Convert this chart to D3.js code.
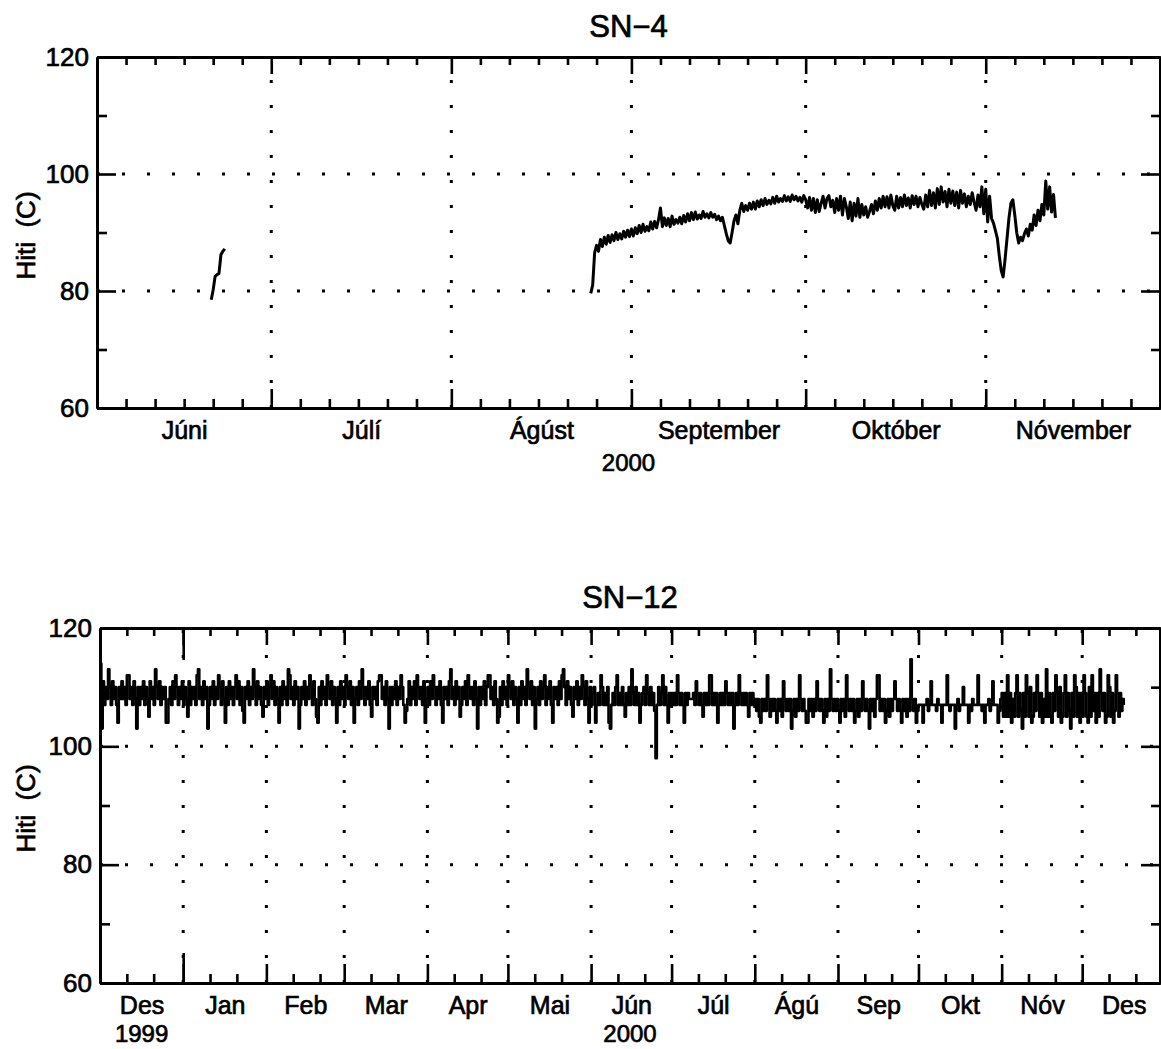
<!DOCTYPE html>
<html>
<head>
<meta charset="utf-8">
<script src="https://cdnjs.cloudflare.com/ajax/libs/d3/7.8.5/d3.min.js"></script>
<style>
body { margin: 0; background: #fff; }
svg text { font-family: "Liberation Sans", Arial, sans-serif; fill: #000; stroke: #000; stroke-width: 0.7px; white-space: pre; }
</style>
</head>
<body>
<svg id="chart" width="1161" height="1049"></svg>
<script>
// SN-4 (Jun - Nov 2000), readings every 8 hours
const sn4JuniStart = "2000-06-20T16:00Z";
const sn4JuniValues = [78.5, 80.2, 82.5, 82.8, 83.0, 86.2, 86.8, 87.2];

const sn4Start = "2000-08-25T00:00Z";
const sn4Values = [
  79.6, 81.0, 86.5,  87.8, 86.8, 88.8,  87.6, 89.2, 88.0,  89.5, 88.3, 89.6,  88.6, 90.0, 88.8,
  89.8, 88.9, 90.2,  89.2, 90.4, 89.3,
  // sep
  90.6, 89.4, 90.8,  89.8, 91.2, 90.0,  91.4, 90.2, 91.0,  90.3, 91.8, 90.6,  91.9, 90.8, 92.2,
  94.2, 91.0, 92.5,  91.2, 92.4, 91.0,  92.8, 91.4, 92.2,  91.6, 92.6, 91.5,  92.9, 91.8, 93.2,
  92.0, 93.4, 92.2,  93.5, 92.3, 93.0,  92.4, 93.6, 92.6,  93.2, 92.5, 93.4,  92.6, 93.1, 92.2,
  92.8, 92.0, 92.6,  91.2, 89.8, 88.6,  88.2, 90.0, 92.0,  93.0, 91.5, 93.8,  95.0, 93.6, 94.6,
  93.8, 95.0, 94.0,  95.2, 94.0, 95.4,  94.4, 95.6, 94.6,  95.8, 94.8, 95.5,  94.9, 96.0, 95.0,
  96.2, 95.2, 95.8,  95.3, 96.3, 95.4,  96.1, 95.3, 96.4,  95.6, 96.2, 95.4,  96.0, 95.2, 96.3,
  // okt
  95.6, 94.2, 96.0,  93.8, 95.8, 93.4,  95.6, 93.6, 95.0,  96.2, 94.2, 95.8,  96.3, 94.4, 95.5,
  93.4, 95.8, 93.8,  96.2, 93.0, 95.8,  94.4, 92.4, 95.2,  92.0, 95.0, 92.8,  95.8, 92.6, 94.8,
  93.0, 94.4, 92.6,  93.6, 94.8, 93.2,  95.4, 93.8, 95.8,  94.2, 96.2, 94.4,  96.1, 94.2, 96.4,
  94.6, 93.8, 96.2,  94.2, 96.0, 94.4,  96.4, 94.6, 95.9,  94.2, 96.3, 94.8,  96.2, 94.4, 96.0,
  94.8, 94.0, 96.4,  94.4, 97.2, 94.6,  96.8, 94.2, 97.5,  94.8, 97.8, 95.2,  97.0, 94.4, 97.4,
  95.0, 97.1, 94.6,  96.9, 94.2, 97.2,  95.0, 96.6, 94.4,  96.2, 94.8, 96.8,  95.2, 93.8, 96.4,
  94.4, 97.8, 93.2,
  // nov
  97.4, 91.8, 96.2,  92.4, 91.6, 90.3,  89.0, 86.0, 83.5,  82.4, 85.5, 89.0,  92.5, 95.0, 95.6,
  93.0, 90.0, 88.2,  89.2, 88.6, 89.8,  90.6, 89.4, 91.4,  90.4, 93.0, 91.2,  93.8, 92.0, 94.8,
  93.0, 98.8, 94.0,  97.8, 93.5, 96.5,  92.5
];
const sn4Months = ["Júni", "Júlí", "Ágúst", "September", "Október", "Nóvember"];

// SN-12 (Dec 1999 - Dec 2000), readings every 12 hours
const sn12Start = "1999-12-01T00:00Z";
const sn12Values = [
  // des 1999
  114,103,111,107,110,108,113,110,107,111,108,110,107,104,110,108,111,108,110,107,
  112,112,108,110,107,111,108,103,110,107,110,108,111,107,110,108,105,111,108,110,
  107,113,110,108,111,107,110,108,110,104,104,108,110,107,111,108,112,110,107,110,
  108,111,
  // jan
  107,110,108,105,111,107,110,108,110,107,112,113,108,110,107,111,108,110,103,107,
  110,108,111,107,110,108,112,110,107,111,108,104,110,107,111,108,110,107,110,112,
  108,111,107,110,106,104,110,108,111,107,110,108,113,110,107,111,108,110,107,105,
  110,108,
  // feb
  111,107,110,112,108,111,107,110,108,104,110,107,111,108,110,107,113,112,108,110,
  107,111,108,110,103,107,110,108,111,107,110,108,112,110,107,111,108,105,104,110,
  107,111,108,110,107,112,110,108,111,107,110,108,104,110,107,111,108,110,
  // mar
  107,112,110,108,111,107,110,104,108,110,107,111,108,113,110,107,110,108,111,107,
  105,110,108,110,107,111,112,112,108,110,107,111,108,103,110,107,110,108,111,107,
  110,108,112,110,107,104,106,108,111,107,110,108,111,107,112,110,108,110,107,111,
  104,108,
  // apr
  110,107,111,108,112,110,107,110,108,111,107,104,110,108,110,107,111,113,108,110,
  107,111,108,110,105,107,110,108,111,107,112,110,108,110,107,111,108,103,110,107,
  110,108,111,107,110,112,112,108,110,107,111,108,104,105,110,107,111,108,110,107,
  // mai
  112,110,108,111,107,110,108,104,110,107,111,108,110,107,113,110,108,111,107,110,
  103,108,110,107,111,108,110,112,107,110,108,111,107,104,110,108,110,107,111,108,
  112,113,110,107,111,108,110,107,105,110,108,111,107,110,108,112,110,107,111,108,
  104,110,
  // jún
  107,109,110,104,107,109,107,112,110,107,109,107,110,104,103,107,109,107,110,112,
  107,109,107,110,107,105,109,107,110,107,113,109,107,110,107,109,104,107,109,110,
  107,112,109,107,110,107,109,106,98,107,110,107,109,112,107,110,107,104,109,107,
  // júl
  109,107,109,107,112,109,107,109,107,104,109,107,109,108,108,108,109,107,111,109,
  107,109,107,105,109,107,109,107,112,112,107,109,107,109,104,107,109,107,109,107,
  111,109,107,109,107,109,103,107,109,107,112,109,107,109,107,109,107,105,109,107,
  109,107,
  // ágú
  108,106,108,105,104,108,106,108,106,112,108,105,108,106,108,106,104,108,106,108,
  105,111,108,106,108,106,108,103,106,108,105,108,106,112,108,106,108,106,104,104,
  108,106,108,105,108,106,111,108,106,108,106,104,108,105,108,106,113,108,106,108,
  106,108,
  // sep
  106,104,108,106,108,105,112,108,106,108,106,108,104,106,108,105,108,106,111,108,
  106,108,106,103,108,106,108,105,108,112,112,106,108,106,108,104,106,108,105,108,
  106,108,111,108,106,108,106,104,108,106,108,105,108,106,114.7,108,106,108,104,106,
  // okt
  107,107,107,104,107,107,108,106,107,111,107,107,107,106,108,107,107,104,107,107,
  107,112,107,106,107,107,107,103,107,108,106,107,107,110,107,107,107,104,107,106,
  108,107,107,107,112,107,107,106,107,104,107,107,108,106,107,111,107,107,107,104,
  106,108,
  // nóv
  109,105,109,105,112,105,109,104,108,105,109,112,105,109,106,103,109,105,112,109,
  105,110,104,105,109,106,112,109,105,109,104,108,105,113,105,109,105,104,109,106,
  112,109,105,110,104,105,109,112,105,109,106,103,109,105,112,110,105,109,104,109,
  // des 2000
  105,112,109,105,104,110,105,112,106,109,104,109,105,113,109,106,109,104,105,112,
  110,105,109,104,106,112,109,105,109,106,108,107
];
const sn12Months = ["Des", "Jan", "Feb", "Mar", "Apr", "Mai", "Jún", "Júl", "Ágú", "Sep", "Okt", "Nóv", "Des"];

const yMajor = [60, 80, 100, 120];
const yMinor = [70, 90, 110];
const yGrid = [80, 100];

const svg = d3.select("#chart");

function seriesPoints(start, stepHours, values) {
    const t0 = new Date(start).getTime();
    return values.map((v, i) => ({ date: new Date(t0 + i * stepHours * 3600e3), value: v }));
}

function drawPanel(p) {
    const x = d3.scaleUtc().domain(p.domain).range([p.left, p.right]);
    const y = d3.scaleLinear().domain([60, 120]).range([p.bottom, p.top]);
    const g = svg.append("g");

    const months = d3.utcMonth.range(p.domain[0], p.domain[1]);
    const inner = months.filter(d => d > p.domain[0]);
    const minor = d3.utcDay.range(p.domain[0], p.domain[1])
        .filter(d => p.minorDays.includes(d.getUTCDate()));
    const mids = months.map(m => new Date((m.getTime() + d3.utcMonth.offset(m, 1).getTime()) / 2));

    // dotted grid
    const grid = g.append("g")
        .attr("stroke", "#000")
        .attr("stroke-width", 3)
        .attr("stroke-dasharray", "3,22");
    grid.selectAll(".vg").data(inner).enter().append("line")
        .attr("x1", d => x(d)).attr("x2", d => x(d))
        .attr("y1", p.bottom).attr("y2", p.top);
    grid.selectAll(".hg").data(yGrid).enter().append("line")
        .attr("y1", d => y(d)).attr("y2", d => y(d))
        .attr("x1", p.left).attr("x2", p.right);

    // data
    const line = d3.line().curve(p.curve).x(d => x(d.date)).y(d => y(d.value));
    p.series.forEach(s => {
        g.append("path")
            .datum(seriesPoints(s.start, s.step, s.values))
            .attr("fill", "none")
            .attr("stroke", "#000")
            .attr("stroke-width", p.lineWidth)
            .attr("stroke-linejoin", "round")
            .attr("d", line);
    });

    // frame and ticks
    const axes = [
        [d3.axisBottom(x).tickValues(minor).tickSizeInner(-9), `translate(0,${p.bottom})`],
        [d3.axisBottom(x).tickValues(inner).tickSizeInner(-19), `translate(0,${p.bottom})`],
        [d3.axisBottom(x).tickValues(p.yearTicks).tickSizeInner(-30), `translate(0,${p.bottom})`],
        [d3.axisTop(x).tickValues(minor).tickSizeInner(-8), `translate(0,${p.top})`],
        [d3.axisTop(x).tickValues(inner).tickSizeInner(-17), `translate(0,${p.top})`],
        [d3.axisTop(x).tickValues(p.yearTicks).tickSizeInner(-32), `translate(0,${p.top})`],
        [d3.axisLeft(y).tickValues(yMinor).tickSizeInner(-10), `translate(${p.left},0)`],
        [d3.axisLeft(y).tickValues(yMajor).tickSizeInner(-19), `translate(${p.left},0)`],
        [d3.axisRight(y).tickValues(yMinor).tickSizeInner(-9), `translate(${p.right},0)`],
        [d3.axisRight(y).tickValues(yMajor).tickSizeInner(-19), `translate(${p.right},0)`]
    ];
    axes.forEach(([ax, tr]) => {
        const a = g.append("g").attr("transform", tr)
            .call(ax.tickSizeOuter(0).tickFormat(""));
        a.select(".domain").attr("stroke-width", 3);
        a.selectAll(".tick line").attr("stroke-width", 2.6);
    });

    // y tick labels
    g.append("g").attr("transform", `translate(${p.left},0)`)
        .call(d3.axisLeft(y).tickValues(yMajor).tickSize(0).tickPadding(8))
        .call(a => a.select(".domain").remove())
        .selectAll("text")
        .attr("font-size", 26)
        .attr("font-family", "Liberation Sans, Arial, sans-serif");

    // month labels
    g.append("g").attr("transform", `translate(0,${p.bottom})`)
        .call(d3.axisBottom(x).tickValues(mids).tickSize(0).tickPadding(13)
            .tickFormat((d, i) => p.monthNames[i]))
        .call(a => a.select(".domain").remove())
        .selectAll("text")
        .attr("font-size", 25)
        .attr("font-family", "Liberation Sans, Arial, sans-serif");

    // year labels
    p.yearLabels.forEach(yl => {
        g.append("text")
            .attr("x", yl.at === "center" ? (p.left + p.right) / 2 : x(mids[yl.at]))
            .attr("y", p.bottom + p.yearDy)
            .attr("text-anchor", "middle")
            .attr("font-size", 24)
            .text(yl.label);
    });

    // title
    g.append("text")
        .attr("x", (p.left + p.right) / 2)
        .attr("y", p.top - 20)
        .attr("text-anchor", "middle")
        .attr("font-size", 31)
        .text(p.title);

    // y label
    g.append("text")
        .attr("transform", `translate(35,${(p.top + p.bottom) / 2 + 3}) rotate(-90)`)
        .attr("text-anchor", "middle")
        .attr("font-size", 26)
        .text("Hiti  (C)");
}

drawPanel({
    title: "SN−4",
    domain: [new Date("2000-06-01T00:00Z"), new Date("2000-12-01T00:00Z")],
    left: 97, right: 1160, top: 57, bottom: 408,
    minorDays: [6, 11, 16, 21, 26],
    yearTicks: [],
    monthNames: sn4Months,
    yearLabels: [{ label: "2000", at: "center" }],
    yearDy: 63,
    curve: d3.curveLinear,
    lineWidth: 3,
    series: [
        { start: sn4JuniStart, step: 8, values: sn4JuniValues },
        { start: sn4Start, step: 8, values: sn4Values }
    ]
});

drawPanel({
    title: "SN−12",
    domain: [new Date("1999-12-01T00:00Z"), new Date("2000-12-30T00:00Z")],
    left: 100, right: 1160, top: 628, bottom: 983,
    minorDays: [11, 21],
    yearTicks: [new Date("2000-01-01T00:00Z")],
    monthNames: sn12Months,
    yearLabels: [{ label: "1999", at: 0 }, { label: "2000", at: "center" }],
    yearDy: 59,
    curve: d3.curveStepAfter,
    lineWidth: 2.6,
    series: [
        { start: sn12Start, step: 12, values: sn12Values }
    ]
});
</script>
</body>
</html>
